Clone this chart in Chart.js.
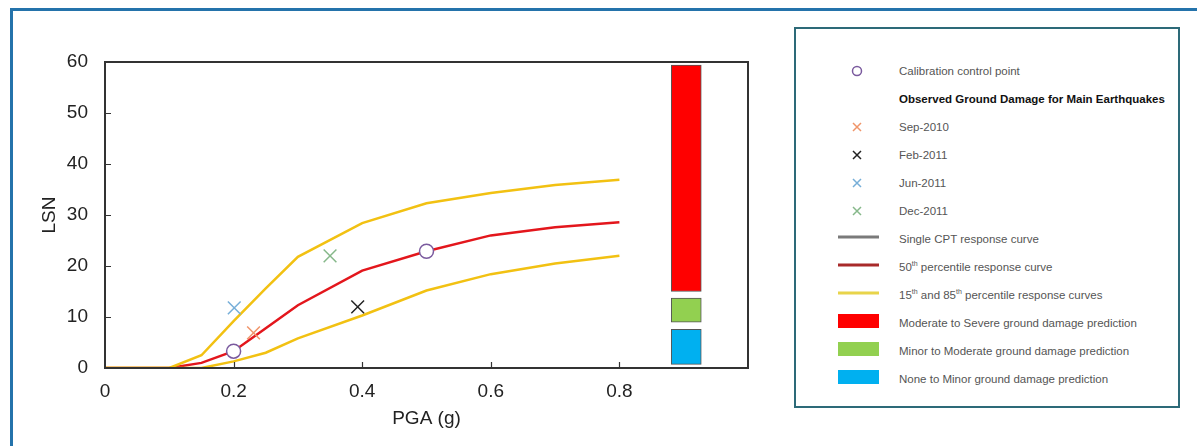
<!DOCTYPE html>
<html>
<head>
<meta charset="utf-8">
<script src="https://cdn.jsdelivr.net/npm/chart.js@4.4.1/dist/chart.umd.min.js"></script>
<style>
  html, body { margin: 0; padding: 0; background: #fff; }
  body { width: 1197px; height: 446px; position: relative; overflow: hidden; font-family: "Liberation Sans", Arial, sans-serif; }
  #frame { position: absolute; left: 10px; top: 8px; width: 1300px; height: 600px; border-top: 3px solid #2473ab; border-left: 3px solid #2473ab; box-sizing: border-box; }
  #wrap { position: absolute; left: 0; top: 0; width: 1197px; height: 446px; }
  #legend { position: absolute; left: 794px; top: 27px; width: 386px; height: 381px; border: 2px solid #2d6a78; box-sizing: border-box; background: #fff; }
  .row { position: absolute; left: 0; height: 20px; width: 380px; }
  .row .txt { position: absolute; left: 103px; top: 0; line-height: 20px; font-size: 11.5px; color: #555; white-space: nowrap; }
  .row .txt.bold { font-weight: bold; color: #111; }
  .row .txt sup { font-size: 7px; line-height: 0; vertical-align: 5px; }
  .row .ico { position: absolute; left: 42px; top: 0; width: 44px; height: 20px; }
</style>
</head>
<body>
<div id="frame"></div>
<div id="wrap"><canvas id="c" width="1197" height="446"></canvas></div>
<div id="legend"></div>
<script>
// ---- data ----
const pga = [0, 0.05, 0.1, 0.15, 0.2, 0.25, 0.3, 0.4, 0.5, 0.6, 0.7, 0.8];
const lsnP85 = [0, 0, 0, 2.5, 9.2, 15.6, 21.8, 28.4, 32.3, 34.3, 35.9, 36.9];
const lsnP50 = [0, 0, 0, 1.0, 3.3, 7.8, 12.3, 19.1, 22.9, 26.0, 27.6, 28.6];
const lsnP15 = [0, 0, 0, 0, 1.3, 3.0, 5.8, 10.3, 15.2, 18.4, 20.5, 22.0];

const calibPGA = [0.2, 0.5];
const calibLSN = [3.3, 22.9];

const eventNames = ["Sep-2010", "Feb-2011", "Jun-2011", "Dec-2011"];
const eventPGA = [0.231, 0.393, 0.201, 0.35];
const eventLSN = [6.9, 12.0, 11.8, 22.0];
const eventColors = ["#f0956a", "#222222", "#76aed8", "#86b88a"];

const damageClasses = ["Moderate to Severe", "Minor to Moderate", "None to Minor"];
const damagePGA = 0.904;
const damageLow = [15, 9, 0.7];
const damageHigh = [59.4, 13.7, 7.6];
const damageColors = ["#ff0000", "#92d050", "#00b0f0"];

const xTicks = [0, 0.2, 0.4, 0.6, 0.8];
const yTicks = [0, 10, 20, 30, 40, 50, 60];

// ---- datasets ----
const pts = (xs, ys) => xs.map((x, i) => ({ x: x, y: ys[i] }));
const datasets = [];

datasets.push({
  type: 'bar', label: 'damage',
  data: damageClasses.map((n, i) => ({ x: damagePGA, y: [damageLow[i], damageHigh[i]] })),
  backgroundColor: damageColors, borderColor: '#555', borderWidth: 1,
  barThickness: 30, borderSkipped: false, order: 10
});
datasets.push({ type: 'line', label: '50th', data: pts(pga, lsnP50), borderColor: '#e3161c', borderWidth: 2.5, pointRadius: 0, tension: 0, order: 5 });
datasets.push({ type: 'line', label: '85th', data: pts(pga, lsnP85), borderColor: '#f2c112', borderWidth: 2.5, pointRadius: 0, tension: 0, order: 4 });
datasets.push({ type: 'line', label: '15th', data: pts(pga, lsnP15), borderColor: '#f2c112', borderWidth: 2.5, pointRadius: 0, tension: 0, order: 4 });
eventNames.forEach((n, i) => {
  datasets.push({ type: 'line', label: n, data: [{ x: eventPGA[i], y: eventLSN[i] }], showLine: false,
    pointStyle: 'crossRot', pointRadius: 9, pointBorderWidth: 1.5, borderColor: eventColors[i], backgroundColor: eventColors[i], order: 1 });
});
datasets.push({ type: 'line', label: 'calib', data: pts(calibPGA, calibLSN), showLine: false,
  pointStyle: 'circle', pointRadius: 7, pointBorderWidth: 1.5, borderColor: '#7a5a9e', backgroundColor: '#ffffff', order: 0 });

// ---- plugins: frame + inward ticks ----
const framePlugin = {
  id: 'framePlugin',
  afterDatasetsDraw(chart) {
    const { ctx, chartArea: a, scales: { x, y } } = chart;
    ctx.save();
    ctx.strokeStyle = '#333';
    ctx.lineWidth = 2;
    ctx.strokeRect(a.left, a.top, a.right - a.left, a.bottom - a.top);
    ctx.lineWidth = 1.2;
    ctx.beginPath();
    xTicks.forEach(v => { if (v === 0) return; const px = Math.round(x.getPixelForValue(v)) + 0.5; ctx.moveTo(px, a.bottom); ctx.lineTo(px, a.bottom - 6); });
    yTicks.forEach(v => { if (v === 0 || v === 60) return; const py = Math.round(y.getPixelForValue(v)) + 0.5; ctx.moveTo(a.left, py); ctx.lineTo(a.left + 6, py); });
    ctx.stroke();
    ctx.restore();
  }
};

const axisFont = { size: 19, family: 'Liberation Sans, Arial' };

new Chart(document.getElementById('c'), {
  type: 'line',
  data: { datasets: datasets },
  plugins: [framePlugin],
  options: {
    responsive: false, animation: false,
    layout: { padding: { top: 62, right: 449, left: 0, bottom: 0 } },
    plugins: { legend: { display: false }, tooltip: { enabled: false } },
    scales: {
      x: {
        type: 'linear', min: 0, max: 1, offset: false,
        afterFit(s) { s.height = 78; },
        afterBuildTicks(s) { s.ticks = xTicks.concat([1]).map(v => ({ value: v })); },
        grid: { display: false, drawTicks: false, offset: false },
        border: { display: false },
        ticks: { color: '#222', font: axisFont, padding: 12, maxRotation: 0,
          callback: v => (v === 1 ? '' : String(v)) },
        title: { display: true, text: 'PGA (g)', color: '#222', font: axisFont, padding: { top: 0, bottom: 16 } }
      },
      y: {
        type: 'linear', min: 0, max: 60,
        afterFit(s) { s.width = 105; },
        afterBuildTicks(s) { s.ticks = yTicks.map(v => ({ value: v })); },
        grid: { display: false, drawTicks: false },
        border: { display: false },
        ticks: { color: '#222', font: axisFont, padding: 17 },
        title: { display: true, text: 'LSN', color: '#222', font: axisFont, padding: { top: 38, bottom: 0 } }
      }
    }
  }
});

// ---- legend (HTML) ----
const legend = document.getElementById('legend');
const svgX = c => `<svg class="ico" width="44" height="20"><path d="M15 6 L23 14 M23 6 L15 14" stroke="${c}" stroke-width="1.5"/></svg>`;
const svgCircle = c => `<svg class="ico" width="44" height="20"><circle cx="19" cy="10" r="4.5" fill="#fff" stroke="${c}" stroke-width="1.5"/></svg>`;
const svgLine = c => `<svg class="ico" width="44" height="20"><line x1="0" y1="8" x2="41" y2="8" stroke="${c}" stroke-width="3"/></svg>`;
const svgBox = c => `<svg class="ico" width="44" height="20"><rect x="0" y="1" width="41" height="14" fill="${c}"/></svg>`;
const rows = [
  [svgCircle('#7a5a9e'), 'Calibration control point', false],
  ['', 'Observed Ground Damage for Main Earthquakes', true],
  [svgX(eventColors[0]), eventNames[0], false],
  [svgX(eventColors[1]), eventNames[1], false],
  [svgX(eventColors[2]), eventNames[2], false],
  [svgX(eventColors[3]), eventNames[3], false],
  [svgLine('#7a7a7a'), 'Single CPT response curve', false],
  [svgLine('#a82a2a'), '50<sup>th</sup> percentile response curve', false],
  [svgLine('#e8d44a'), '15<sup>th</sup> and 85<sup>th</sup> percentile response curves', false],
  [svgBox(damageColors[0]), damageClasses[0] + ' ground damage prediction', false],
  [svgBox(damageColors[1]), damageClasses[1] + ' ground damage prediction', false],
  [svgBox(damageColors[2]), damageClasses[2] + ' ground damage prediction', false]
];
rows.forEach((r, i) => {
  const d = document.createElement('div');
  d.className = 'row';
  d.style.top = (71 + 28 * i - 27 - 2 - 10) + 'px';
  d.innerHTML = r[0] + `<span class="txt${r[2] ? ' bold' : ''}">${r[1]}</span>`;
  legend.appendChild(d);
});
</script>
</body>
</html>
